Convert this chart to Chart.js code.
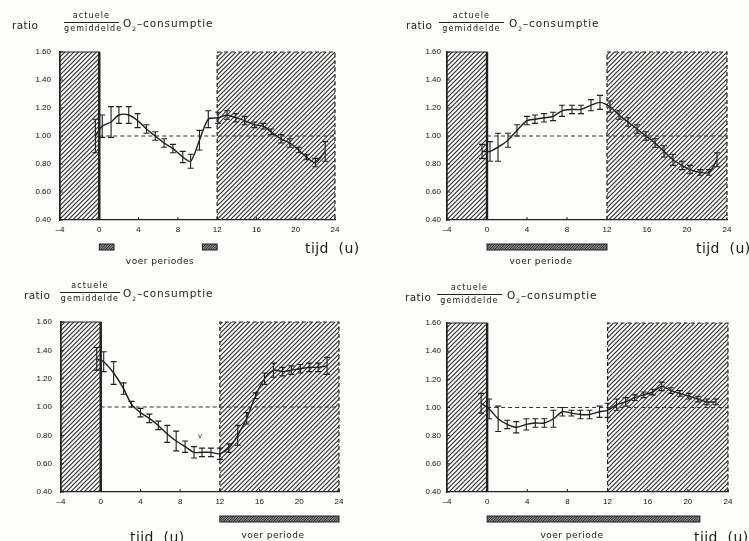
<!DOCTYPE html>
<html>
<head>
<meta charset="utf-8">
<script src="https://cdn.jsdelivr.net/npm/chart.js@4.4.1/dist/chart.umd.min.js"></script>
<style>
  body { margin: 0; background: #fcfcfa; }
  #page { position: relative; width: 749px; height: 541px; overflow: hidden; font-family: "DejaVu Sans", sans-serif; color: #1c1c1c; }
  #page canvas { position: absolute; }
  .t { position: absolute; white-space: pre; line-height: 1; transform: translateY(-50%); }
  .c { transform: translate(-50%, -50%); }
  .frac { position: absolute; font-size: 8px; letter-spacing: 1.1px; text-align: center; line-height: 1; }
  .frac div { padding: 1px 0; }
  .frac .num { border-bottom: 1px solid #222; padding-bottom: 2px; }
  .frac .den { padding-top: 2px; }
</style>
</head>
<body>
<div id="page">
  <canvas id="c1" width="374" height="270" style="left:0;top:0"></canvas>
  <canvas id="c2" width="375" height="270" style="left:374px;top:0"></canvas>
  <canvas id="c3" width="374" height="271" style="left:0;top:270px"></canvas>
  <canvas id="c4" width="375" height="271" style="left:374px;top:270px"></canvas>
</div>
<script>
// axis ticks
var xTicks = [-4, 0, 4, 8, 12, 16, 20, 24];
var yTicks = [0.4, 0.6, 0.8, 1.0, 1.2, 1.4, 1.6];

// dark periods (hatched), same in all panels
var darkPeriods = [[-4, 0], [12, 24]];

// panel 1 (top left)
var hours1 = [-0.4, 0.3, 1.2, 2.0, 3.0, 3.9, 4.8, 5.7, 6.6, 7.5, 8.5, 9.3, 10.2, 11.1, 12.1, 13.0, 13.9, 14.8, 15.8, 16.7, 17.5, 18.5, 19.4, 20.3, 21.1, 22.0, 23.0];
var ratio1 = [1.00, 1.07, 1.10, 1.15, 1.15, 1.11, 1.05, 1.00, 0.95, 0.91, 0.85, 0.82, 0.97, 1.12, 1.13, 1.15, 1.13, 1.11, 1.08, 1.07, 1.03, 0.98, 0.95, 0.90, 0.85, 0.81, 0.89];
var err1   = [0.12, 0.08, 0.11, 0.06, 0.06, 0.05, 0.03, 0.03, 0.03, 0.03, 0.04, 0.05, 0.07, 0.06, 0.04, 0.03, 0.03, 0.03, 0.02, 0.02, 0.02, 0.03, 0.03, 0.02, 0.02, 0.03, 0.07];
var feed1  = [[0, 1.5], [10.5, 12]];

// panel 2 (top right)
var hours2 = [-0.5, 0.3, 1.1, 2.1, 3.0, 4.0, 4.8, 5.7, 6.6, 7.5, 8.5, 9.4, 10.4, 11.3, 12.3, 13.2, 14.1, 15.0, 15.9, 16.8, 17.7, 18.6, 19.5, 20.3, 21.3, 22.2, 23.0];
var ratio2 = [0.89, 0.89, 0.92, 0.97, 1.04, 1.11, 1.12, 1.13, 1.14, 1.18, 1.19, 1.19, 1.22, 1.24, 1.21, 1.15, 1.10, 1.05, 1.00, 0.95, 0.89, 0.83, 0.79, 0.76, 0.74, 0.74, 0.83];
var err2   = [0.05, 0.07, 0.10, 0.05, 0.04, 0.03, 0.03, 0.03, 0.03, 0.04, 0.03, 0.03, 0.04, 0.05, 0.04, 0.03, 0.03, 0.03, 0.03, 0.03, 0.04, 0.04, 0.03, 0.03, 0.02, 0.02, 0.05];
var feed2  = [[0, 12]];

// panel 3 (bottom left)
var hours3 = [-0.4, 0.3, 1.3, 2.3, 3.1, 4.0, 4.9, 5.8, 6.7, 7.6, 8.5, 9.4, 10.2, 11.1, 12.0, 12.9, 13.8, 14.7, 15.6, 16.5, 17.4, 18.3, 19.2, 20.1, 21.0, 21.9, 22.8];
var ratio3 = [1.34, 1.32, 1.24, 1.13, 1.02, 0.96, 0.92, 0.87, 0.81, 0.76, 0.72, 0.68, 0.68, 0.68, 0.67, 0.71, 0.80, 0.92, 1.08, 1.20, 1.26, 1.25, 1.26, 1.27, 1.28, 1.28, 1.29];
var err3   = [0.08, 0.07, 0.08, 0.04, 0.02, 0.03, 0.03, 0.03, 0.06, 0.07, 0.04, 0.04, 0.03, 0.03, 0.04, 0.03, 0.07, 0.04, 0.02, 0.04, 0.05, 0.03, 0.03, 0.03, 0.03, 0.03, 0.06];
var feed3  = [[12, 24]];

// panel 4 (bottom right)
var hours4 = [-0.6, 0.2, 1.1, 2.0, 2.9, 3.9, 4.8, 5.7, 6.6, 7.5, 8.4, 9.3, 10.2, 11.2, 12.0, 12.9, 13.8, 14.7, 15.6, 16.5, 17.4, 18.3, 19.2, 20.1, 21.0, 21.9, 22.8];
var ratio4 = [1.03, 0.99, 0.92, 0.88, 0.86, 0.88, 0.89, 0.89, 0.92, 0.97, 0.96, 0.95, 0.95, 0.97, 0.98, 1.02, 1.04, 1.07, 1.09, 1.11, 1.15, 1.12, 1.10, 1.08, 1.06, 1.04, 1.04];
var err4   = [0.07, 0.07, 0.09, 0.03, 0.04, 0.04, 0.03, 0.03, 0.06, 0.03, 0.02, 0.03, 0.03, 0.04, 0.05, 0.04, 0.03, 0.02, 0.02, 0.02, 0.03, 0.02, 0.02, 0.02, 0.02, 0.02, 0.02];
var feed4  = [[0, 21.2]];

var ink = '#202020';

function hatchPattern(ctx, gap, width) {
  var size = gap * 2;
  var c = document.createElement('canvas');
  c.width = c.height = size;
  var g = c.getContext('2d');
  g.strokeStyle = '#2c2c2c';
  g.lineWidth = width;
  g.beginPath();
  for (var k = -size; k <= 2 * size; k += gap) {
    g.moveTo(-1, k + 1);
    g.lineTo(size + 1, k - size - 1);
  }
  g.stroke();
  return ctx.createPattern(c, 'repeat');
}

var hatchPlugin = {
  id: 'hatch',
  beforeDatasetsDraw: function(chart) {
    var ctx = chart.ctx, xs = chart.scales.x, ys = chart.scales.y, a = chart.chartArea;
    ctx.save();
    var pat = hatchPattern(ctx, 4.5, 1.1);
    darkPeriods.forEach(function(p, i) {
      var x0 = xs.getPixelForValue(p[0]), x1 = xs.getPixelForValue(p[1]);
      ctx.fillStyle = pat;
      ctx.fillRect(x0, a.top, x1 - x0, a.bottom - a.top);
      ctx.strokeStyle = ink;
      ctx.lineWidth = 1.2;
      ctx.setLineDash(i === 0 ? [] : [4, 3]);
      ctx.beginPath();
      ctx.moveTo(x0, a.bottom); ctx.lineTo(x0, a.top); ctx.lineTo(x1, a.top); ctx.lineTo(x1, a.bottom);
      ctx.stroke();
      if (i === 0) {
        ctx.lineWidth = 2.4;
        ctx.beginPath(); ctx.moveTo(x1, a.top); ctx.lineTo(x1, a.bottom); ctx.stroke();
      }
    });
    ctx.setLineDash([]);
    // inward tick marks
    ctx.lineWidth = 1;
    ctx.strokeStyle = ink;
    ctx.beginPath();
    xTicks.forEach(function(v) {
      var x = xs.getPixelForValue(v);
      ctx.moveTo(x, a.bottom); ctx.lineTo(x, a.bottom - 3);
    });
    yTicks.forEach(function(v) {
      var y = ys.getPixelForValue(v);
      ctx.moveTo(a.left, y); ctx.lineTo(a.left + 3, y);
    });
    ctx.stroke();
    ctx.restore();
  },
  afterDatasetsDraw: function(chart) {
    var ctx = chart.ctx, xs = chart.scales.x, ys = chart.scales.y;
    var ds = chart.data.datasets[0];
    ctx.save();
    ctx.strokeStyle = ink;
    ctx.lineWidth = 1.1;
    ctx.beginPath();
    ds.data.forEach(function(pt, i) {
      var x = xs.getPixelForValue(pt.x);
      var yHi = ys.getPixelForValue(pt.y + ds.errors[i]);
      var yLo = ys.getPixelForValue(pt.y - ds.errors[i]);
      ctx.moveTo(x, yHi); ctx.lineTo(x, yLo);
      ctx.moveTo(x - 3, yHi); ctx.lineTo(x + 3, yHi);
      ctx.moveTo(x - 3, yLo); ctx.lineTo(x + 3, yLo);
    });
    ctx.stroke();
    ctx.restore();
  },
  afterDraw: function(chart) {
    // feeding periods below the axis
    var ctx = chart.ctx, xs = chart.scales.x, a = chart.chartArea;
    var feed = chart.options.plugins.hatch.feed;
    ctx.save();
    var pat = hatchPattern(ctx, 2.5, 1);
    feed.forEach(function(p) {
      var x0 = xs.getPixelForValue(p[0]), x1 = xs.getPixelForValue(p[1]);
      ctx.fillStyle = '#8a8a8a';
      ctx.fillRect(x0, a.bottom + 24, x1 - x0, 6);
      ctx.fillStyle = pat;
      ctx.fillRect(x0, a.bottom + 24, x1 - x0, 6);
      ctx.strokeStyle = ink;
      ctx.lineWidth = 1;
      ctx.strokeRect(x0, a.bottom + 24, x1 - x0, 6);
    });
    ctx.restore();
  }
};

var tickFont = { family: '"Liberation Sans", Arial, sans-serif', size: 8 };

function makeChart(p) {
  var points = p.hours.map(function(h, i) { return { x: h, y: p.ratio[i] }; });
  return new Chart(document.getElementById(p.id), {
    type: 'line',
    data: {
      datasets: [
        { data: points, errors: p.err, borderColor: ink, borderWidth: 1.4, pointRadius: 0, tension: 0.3, fill: false },
        { data: [{ x: 0, y: 1 }, { x: 24, y: 1 }], borderColor: '#333', borderWidth: 1, borderDash: [4, 3], pointRadius: 0, fill: false }
      ]
    },
    options: {
      responsive: false,
      animation: false,
      layout: { padding: p.pad },
      plugins: {
        legend: { display: false },
        tooltip: { enabled: false },
        hatch: { feed: p.feed }
      },
      scales: {
        x: {
          type: 'linear', min: -4, max: 24,
          afterBuildTicks: function(s) { s.ticks = xTicks.map(function(v) { return { value: v }; }); },
          afterFit: function(s) { s.height = 20; },
          grid: { drawOnChartArea: false, drawTicks: false },
          border: { color: ink, width: 1.3 },
          ticks: { font: tickFont, color: '#111', padding: 5, maxRotation: 0, autoSkip: false,
            callback: function(v) { return v < 0 ? '\u2013' + Math.abs(v) : String(v); } }
        },
        y: {
          type: 'linear', min: 0.4, max: 1.6,
          afterBuildTicks: function(s) { s.ticks = yTicks.map(function(v) { return { value: v }; }); },
          afterFit: function(s) { s.width = 50; },
          grid: { drawOnChartArea: false, drawTicks: false },
          border: { color: ink, width: 1.3 },
          ticks: { font: tickFont, color: '#111', padding: p.yPad, autoSkip: false,
            callback: function(v) { return Number(v).toFixed(2); } }
        }
      }
    },
    plugins: [hatchPlugin]
  });
}

var panels = [
  { id: 'c1', pad: { left: 10, right: 39, top: 52, bottom: 30 }, yPad: 9, hours: hours1, ratio: ratio1, err: err1, feed: feed1 },
  { id: 'c2', pad: { left: 23, right: 22, top: 52, bottom: 30 }, yPad: 6, hours: hours2, ratio: ratio2, err: err2, feed: feed2 },
  { id: 'c3', pad: { left: 11, right: 35, top: 52, bottom: 29 }, yPad: 9, hours: hours3, ratio: ratio3, err: err3, feed: feed3 },
  { id: 'c4', pad: { left: 23, right: 21, top: 53, bottom: 29 }, yPad: 6, hours: hours4, ratio: ratio4, err: err4, feed: feed4 }
];
panels.forEach(makeChart);

// text labels
var page = document.getElementById('page');
function label(text, x, y, size, extra, centered) {
  var el = document.createElement('div');
  el.className = 't' + (centered ? ' c' : '');
  el.innerHTML = text;
  el.style.left = x + 'px';
  el.style.top = y + 'px';
  el.style.fontSize = size + 'px';
  if (extra) el.style.cssText += extra;
  page.appendChild(el);
}
function title(xRatio, xFrac, fracW, xO2, yLine) {
  label('ratio', xRatio, yLine + 2, 10.5, 'letter-spacing:0.4px');
  var f = document.createElement('div');
  f.className = 'frac';
  f.style.left = xFrac + 'px';
  f.style.width = fracW + 'px';
  f.style.top = (yLine - 12) + 'px';
  f.innerHTML = '<div class="num">actuele</div><div class="den">gemiddelde</div>';
  page.appendChild(f);
  label('O<sub style="font-size:6px">2</sub>\u2013consumptie', xO2, yLine + 2, 10.5, 'letter-spacing:0.9px');
}
title(12, 64, 55, 123, 23);
title(406, 439, 65, 509, 23);
title(24, 60, 60, 123, 293);
title(405, 437, 65, 507, 295);

var tijdStyle = 'letter-spacing:0.4px;word-spacing:5px';
label('voer periodes', 160, 261, 9, 'letter-spacing:0.5px', true);
label('tijd (u)', 305, 248, 14, tijdStyle);
label('voer periode', 541, 261, 9, 'letter-spacing:0.5px', true);
label('tijd (u)', 696, 248, 14, tijdStyle);
label('voer periode', 273, 535, 9, 'letter-spacing:0.5px', true);
label('tijd (u)', 130, 537, 14, tijdStyle);
label('voer periode', 572, 535, 9, 'letter-spacing:0.5px', true);
label('tijd (u)', 694, 537, 14, tijdStyle);
label('v', 200, 436, 7, '', true);
</script>
</body>
</html>
